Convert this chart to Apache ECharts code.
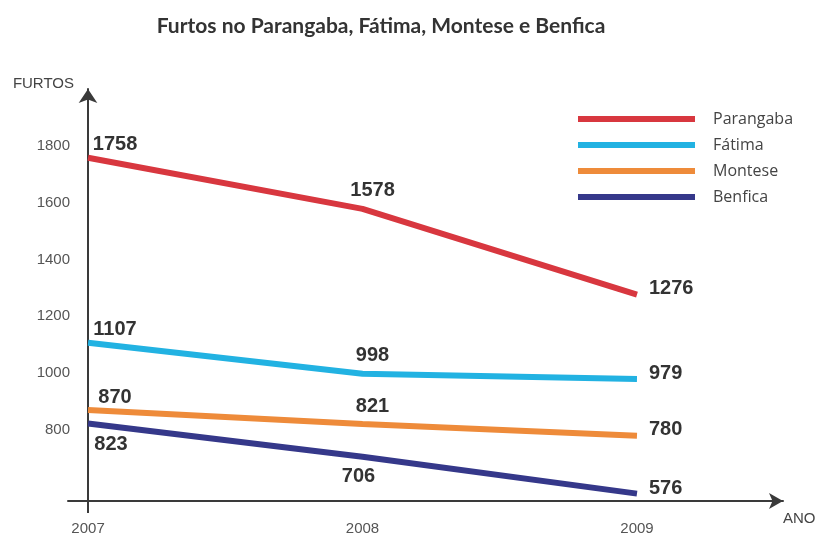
<!DOCTYPE html>
<html>
<head>
<meta charset="utf-8">
<script src="https://cdn.jsdelivr.net/npm/echarts@6/dist/echarts.min.js"></script>
<style>
  html, body { margin: 0; padding: 0; background: #fff; }
  #chart { width: 824px; height: 541px; }
</style>
</head>
<body>
<div id="chart"></div>
<script>
    // dados
    var anos = [2007, 2008, 2009];
    var parangaba = [1758, 1578, 1276];
    var fatima = [1107, 998, 979];
    var montese = [870, 821, 780];
    var benfica = [823, 706, 576];
    var yTicks = [800, 1000, 1200, 1400, 1600, 1800];
    var nomes = ['Parangaba', 'Fátima', 'Montese', 'Benfica'];

    var chart = echarts.init(document.getElementById('chart'));

    // posicao dos rotulos de cada ponto (2007, 2008, 2009)
    var labelCima = [
        {position: 'top', offset: [27, 2]},
        {position: 'top', offset: [10, -3]},
        {position: 'right', distance: 12, offset: [0, -6]}
    ];
    var labelBaixo = [
        {position: 'bottom', offset: [23, 6]},
        {position: 'bottom', offset: [-4, 5]},
        {position: 'right', distance: 12, offset: [0, -5]}
    ];

    function serie(nome, valores, cor, embaixo) {
        var pos = embaixo ? labelBaixo : labelCima;
        return {
            name: nome,
            type: 'line',
            showSymbol: true,
            symbol: 'circle',
            symbolSize: 0,
            silent: true,
            lineStyle: {color: cor, width: 6},
            itemStyle: {color: cor},
            data: valores.map(function (v, i) {
                return {
                    value: [anos[i], v],
                    label: Object.assign({
                        show: true,
                        formatter: String(v),
                        color: '#333',
                        fontSize: 20,
                        fontWeight: 'bold',
                        fontFamily: '"Liberation Sans", Arial, sans-serif'
                    }, pos[i])
                };
            })
        };
    }

    var option = {
        backgroundColor: '#fff',
        animation: false,
        title: {
            text: 'Furtos no Parangaba, Fátima, Montese e Benfica',
            left: 376,
            textAlign: 'center',
            top: 11,
            textStyle: {
                fontFamily: 'Lato, "Open Sans", sans-serif',
                fontWeight: 'bold',
                fontSize: 21,
                color: '#333'
            }
        },
        legend: {
            data: nomes,
            orient: 'vertical',
            left: 578,
            top: 109,
            padding: 0,
            icon: 'rect',
            itemWidth: 117,
            itemHeight: 6,
            itemGap: 6,
            textStyle: {
                fontFamily: '"Open Sans", sans-serif',
                fontSize: 16,
                lineHeight: 20,
                color: '#444',
                padding: [0, 0, 0, 13]
            }
        },
        grid: {left: 68, right: 41, top: 89, bottom: 40},
        xAxis: {
            type: 'value',
            min: 2006.927,
            max: 2009.532,
            name: 'ANO',
            nameLocation: 'end',
            nameGap: 0,
            nameTextStyle: {
                fontFamily: '"Liberation Sans", Arial, sans-serif',
                fontSize: 15,
                color: '#444',
                verticalAlign: 'top',
                padding: [10, 0, 0, 0]
            },
            splitLine: {show: false},
            axisLine: {
                onZero: false,
                symbol: ['none', 'arrow'],
                symbolSize: [12, 14],
                lineStyle: {color: '#3a3a3a', width: 2}
            },
            axisTick: {
                customValues: [2007],
                length: 12,
                lineStyle: {color: '#3a3a3a', width: 2}
            },
            axisLabel: {
                customValues: anos,
                formatter: function (v) { return String(v); },
                margin: 20,
                fontFamily: '"Liberation Sans", Arial, sans-serif',
                fontSize: 15,
                color: '#555'
            }
        },
        yAxis: {
            type: 'value',
            min: 550,
            max: 2000,
            offset: -20,
            name: 'FURTOS',
            nameLocation: 'end',
            nameGap: -2,
            nameTextStyle: {
                fontFamily: '"Liberation Sans", Arial, sans-serif',
                fontSize: 15,
                color: '#444',
                align: 'right',
                padding: [0, 14, 0, 0]
            },
            splitLine: {show: false},
            axisLine: {
                show: true,
                onZero: false,
                symbol: ['none', 'arrow'],
                symbolSize: [14, 14],
                lineStyle: {color: '#3a3a3a', width: 2}
            },
            axisTick: {show: false},
            axisLabel: {
                customValues: yTicks,
                formatter: function (v) { return String(v); },
                margin: 18,
                fontFamily: '"Liberation Sans", Arial, sans-serif',
                fontSize: 15,
                color: '#555'
            }
        },
        series: [
            serie('Parangaba', parangaba, '#d8373f', false),
            serie('Fátima', fatima, '#22b2e2', false),
            serie('Montese', montese, '#ee8b3a', false),
            serie('Benfica', benfica, '#35388a', true)
        ]
    };

    chart.setOption(option);
</script>
</body>
</html>
